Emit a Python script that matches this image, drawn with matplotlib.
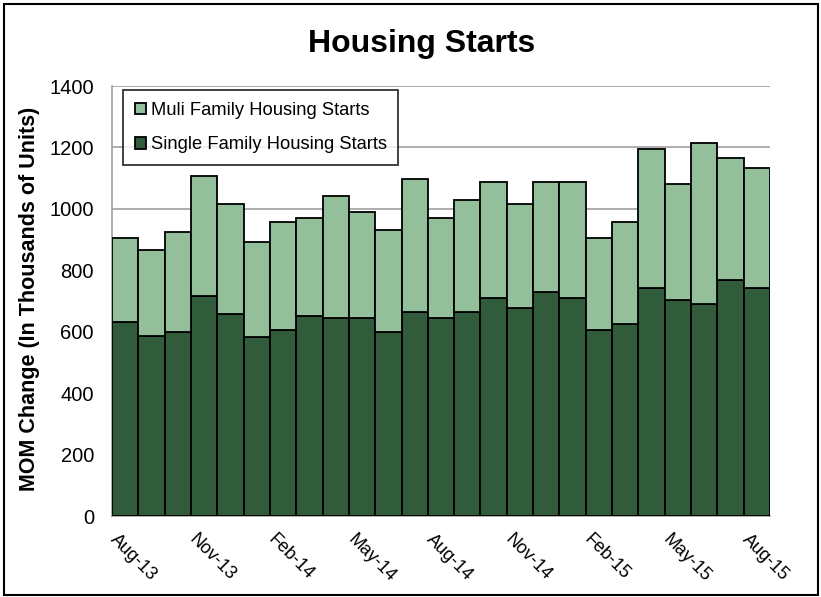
import matplotlib
matplotlib.use("Agg")
import matplotlib.pyplot as plt
import matplotlib.transforms as mtransforms
from matplotlib.patches import Rectangle
import numpy as np

plt.rcParams['font.family'] = ['Liberation Sans', 'DejaVu Sans']

months = ["Aug-13", "Sep-13", "Oct-13", "Nov-13", "Dec-13", "Jan-14", "Feb-14", "Mar-14",
          "Apr-14", "May-14", "Jun-14", "Jul-14", "Aug-14", "Sep-14", "Oct-14", "Nov-14",
          "Dec-14", "Jan-15", "Feb-15", "Mar-15", "Apr-15", "May-15", "Jun-15", "Jul-15", "Aug-15"]
total = [905, 866, 926, 1107, 1016, 892, 957, 969, 1042, 990, 930, 1098, 969,
         1028, 1086, 1016, 1086, 1086, 904, 957, 1195, 1080, 1216, 1166, 1133]
single_family = [633, 587, 600, 717, 659, 582, 607, 651, 646, 646, 600, 664, 646,
                 664, 711, 678, 729, 711, 606, 626, 742, 703, 689, 768, 742]
multi_family = [t - s for t, s in zip(total, single_family)]
tick_labels = ["Aug-13", "Nov-13", "Feb-14", "May-14", "Aug-14", "Nov-14", "Feb-15", "May-15", "Aug-15"]

light = "#93C09B"
dark = "#315C3B"

fig = plt.figure(figsize=(8.21, 5.97), dpi=100)
ax = fig.add_axes([112/821, 1-516/597, (770-112)/821, (516-86)/597])

x = np.arange(len(months))
b1 = ax.bar(x, single_family, width=1.0, color=dark, edgecolor="black", linewidth=1.3,
            label="Single Family Housing Starts", zorder=3)
b2 = ax.bar(x, multi_family, width=1.0, bottom=single_family, color=light, edgecolor="black",
            linewidth=1.3, label="Muli Family Housing Starts", zorder=3)

ax.set_xlim(-0.5, len(months) - 0.5)
ax.set_ylim(0, 1400)
ax.set_yticks(range(0, 1401, 200))
ax.yaxis.grid(True, color="#A0A0A0", linewidth=1.2, zorder=0)
ax.set_axisbelow(True)
for s in ["top", "right"]:
    ax.spines[s].set_visible(False)
ax.spines["left"].set_color("#A0A0A0")
ax.spines["left"].set_linewidth(1.2)
ax.spines["bottom"].set_color("#A0A0A0")
ax.spines["bottom"].set_linewidth(1.2)

ax.tick_params(axis="y", length=0, pad=13, labelsize=14.5)
tick_pos = [months.index(t) for t in tick_labels]
ax.set_xticks(tick_pos)
ax.set_xticklabels(tick_labels, rotation=-45, ha="left", va="top", rotation_mode="anchor")
ax.tick_params(axis="x", length=0, pad=11, labelsize=13)
offset = mtransforms.ScaledTranslation(-6/100, 0, fig.dpi_scale_trans)
for lab in ax.get_xticklabels():
    lab.set_transform(lab.get_transform() + offset)

fig.text(30/821, 1-299/597, "MOM Change (In Thousands of Units)", rotation=90,
         ha="center", va="center", fontsize=15.5, fontweight="bold")

fig.text(422/821, 1-44/597, "Housing Starts", ha="center", va="center", fontsize=23, fontweight="bold")

leg = ax.legend(handles=[b2, b1], loc="upper left", bbox_to_anchor=((123-112)/658, (516-90)/430),
                frameon=True, fancybox=False, edgecolor="black", fontsize=13.2,
                handlelength=0.6, handleheight=0.6, handletextpad=0.25, borderpad=0.65,
                labelspacing=0.95, borderaxespad=0)
leg.get_frame().set_linewidth(1.3)

fig.patches.append(Rectangle((4/821, 2/597), 814/821, 591/597, transform=fig.transFigure,
                             fill=False, edgecolor="black", linewidth=1.5))

fig.savefig("out.png", dpi=100)
